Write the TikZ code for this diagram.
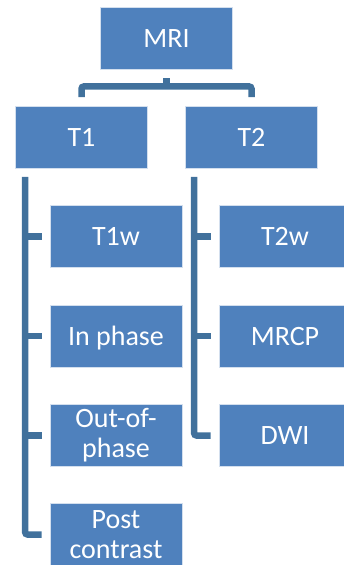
\documentclass[tikz,border=0pt]{standalone}
\usepackage{fontspec}
\setmainfont{Carlito}
\usetikzlibrary{positioning}
\definecolor{boxblue}{HTML}{4F81BD}
\definecolor{lineblue}{HTML}{41719C}

\begin{document}
\begin{tikzpicture}[x=1pt,y=-1pt,
	box/.style={draw=white!75!boxblue,line width=0.8pt,fill=boxblue,minimum width=132pt,minimum height=62pt,inner sep=0pt,align=center,text=white,font=\fontsize{28}{30}\selectfont},
	oneline/.style={text height=18pt,text depth=0pt},
	conn/.style={draw=lineblue,line width=6.5pt,rounded corners=2.5pt}
	]
	\useasboundingbox (0,0) rectangle (343,565);
	\node[box,oneline] (mri) at (166.5,38) {MRI};
	\node[box,oneline] (t1) at (81.5,137.5) {T1};
	\node[box,oneline] (t2) at (251.5,137.5) {T2};
	% T1 column
	\node[box,oneline] (t1w) at (116,236.5) {T1w};
	\node[box,oneline] (inph) at (116,336) {In phase};
	\node[box] (outph) at (116,435.5) {Out-of-\\phase};
	\node[box] (post) at (116,534.5) {Post\\contrast};
	% T2 column
	\node[box,oneline] (t2w) at (285,236.5) {T2w};
	\node[box,oneline] (mrcp) at (285,336) {MRCP};
	\node[box,oneline] (dwi) at (285,435.5) {DWI};
	% connectors
	\draw[conn] ([yshift=-9pt]mri.south) -- ([yshift=-17pt]mri.south);
	\draw[conn] ([yshift=9pt]t1.north) |- ([yshift=-17pt]mri.south) -| ([yshift=9pt]t2.north);
	\coordinate (sp1) at ([xshift=10pt,yshift=-8pt]t1.south west);
	\coordinate (sp2) at ([xshift=9pt,yshift=-8pt]t2.south west);
	\draw[conn] (sp1) |- ([xshift=-8pt]post.west);
	\draw[conn] (sp2) |- ([xshift=-8pt]dwi.west);
	\foreach \c in {t1w,inph,outph}
		\draw[conn] (sp1 |- \c.west) -- ([xshift=-8pt]\c.west);
	\foreach \c in {t2w,mrcp}
		\draw[conn] (sp2 |- \c.west) -- ([xshift=-8pt]\c.west);
\end{tikzpicture}
\end{document}
